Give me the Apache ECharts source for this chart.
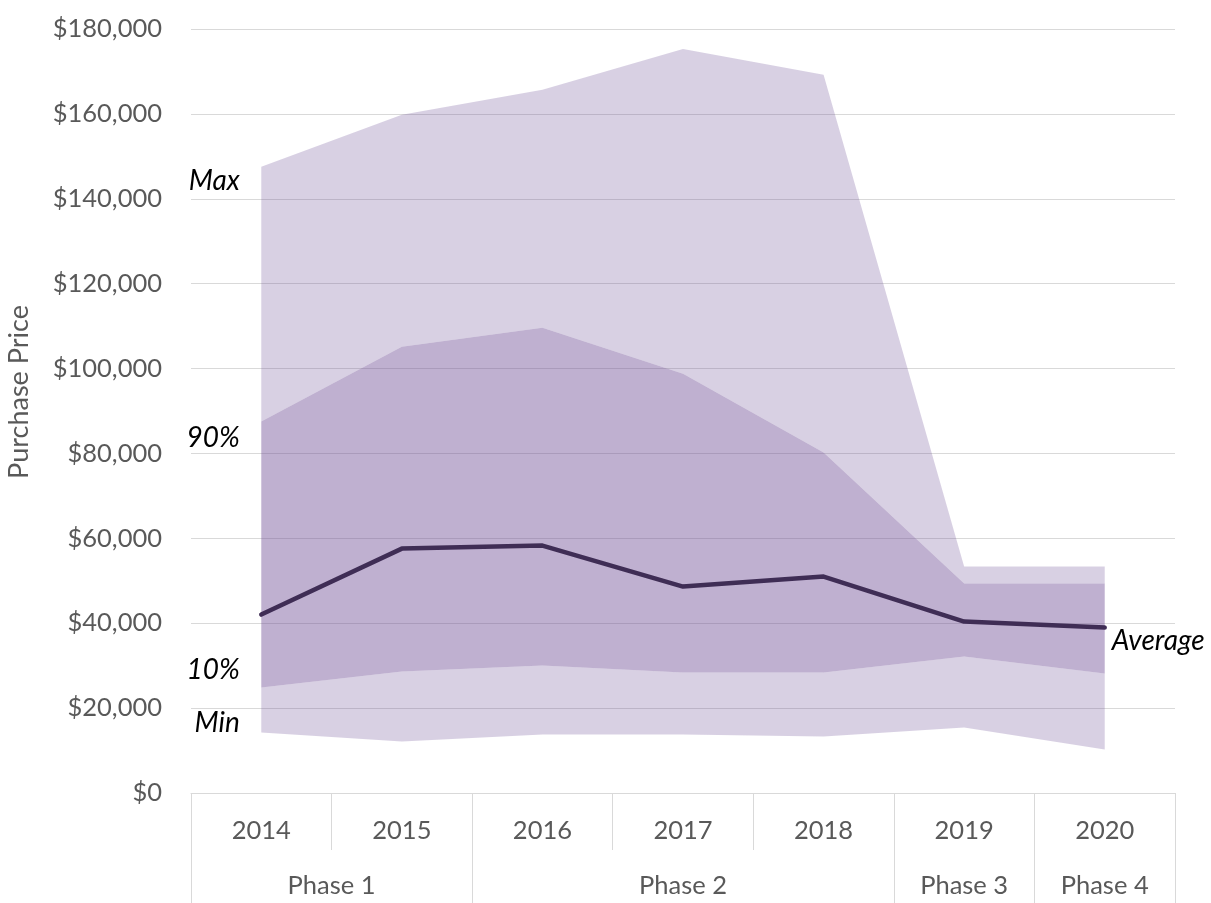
<!DOCTYPE html>
<html>
<head>
<meta charset="utf-8">
<script src="https://cdn.jsdelivr.net/npm/echarts@6/dist/echarts.min.js"></script>
<style>
  html, body { margin: 0; padding: 0; background: #fff; }
  #chart { width: 1211px; height: 903px; }
</style>
</head>
<body>
<div id="chart"></div>
<script>
const years = ['2014', '2015', '2016', '2017', '2018', '2019', '2020'];
const phases = ['Phase 1', 'Phase 2', 'Phase 3', 'Phase 4'];
const phaseBounds = [0, 2, 5, 6, 7];        // phase boundaries, in category slots
const phaseCenters = [1, 3.5, 5.5, 6.5];    // phase label positions, in category slots
const yTicks = { min: 0, max: 180000, interval: 20000 };

const minVals = [14250, 12130, 13780, 13780, 13310, 15430, 10240];
const p10Vals = [24850, 28620, 30030, 28380, 28380, 32150, 28150];
const p90Vals = [87500, 105150, 109600, 98800, 80200, 49350, 49350];
const maxVals = [147550, 159800, 165700, 175300, 169200, 53350, 53350];
const avgVals = [42040, 57580, 58290, 48640, 50990, 40400, 38980];

const FONT = 'Lato, "Open Sans", sans-serif';
const lightBand = 'rgba(112,80,150,0.27)';
const darkBand = 'rgba(112,80,150,0.45)';
const gridGray = '#d9d9d9';
const textGray = '#595959';
const TICK_FS = 25.5;
const NOTE_FS = 28;

function diff(a, b) { return a.map((v, i) => v - b[i]); }

function firstLabel(text, offsetY) {
  return {
    show: true, position: 'left', distance: 21, offset: [0, offsetY],
    formatter: text, color: '#000', fontStyle: 'italic', fontSize: NOTE_FS, fontFamily: FONT
  };
}
function labeled(values, text, offsetY) {
  return values.map((v, i) => i === 0 ? { value: v, label: firstLabel(text, offsetY) } : v);
}

const bandCommon = {
  type: 'line', stack: 'band', symbol: 'circle', symbolSize: 1, showSymbol: true,
  showAllSymbol: true, clip: false,
  itemStyle: { color: 'rgba(0,0,0,0)', borderWidth: 0 },
  emphasis: { disabled: true },
  lineStyle: { width: 0, color: 'rgba(0,0,0,0)' }, silent: true, z: 2
};

const chart = echarts.init(document.getElementById('chart'), null, { renderer: 'canvas' });
chart.setOption({
  animation: false,
  backgroundColor: '#fff',
  grid: { left: 191, right: 36, top: 29, bottom: 110, containLabel: false, outerBoundsMode: 'none' },
  xAxis: [
    {
      type: 'category', data: years, boundaryGap: true, position: 'bottom',
      axisLine: { show: true, lineStyle: { color: gridGray, width: 1 } },
      axisTick: { show: true, interval: 0, length: 57, lineStyle: { color: gridGray, width: 1 } },
      axisLabel: { interval: 0, margin: 25, color: textGray, fontSize: TICK_FS, fontFamily: FONT },
      splitLine: { show: false }
    },
    {
      type: 'value', min: 0, max: years.length, position: 'bottom', offset: 0,
      axisLine: { show: false },
      axisTick: { show: true, customValues: phaseBounds, length: 112, lineStyle: { color: gridGray, width: 1 } },
      axisLabel: {
        show: true, customValues: phaseCenters, margin: 80, color: textGray, fontSize: TICK_FS, fontFamily: FONT,
        formatter: function (v) { const i = phaseCenters.indexOf(v); return i >= 0 ? phases[i] : ''; }
      },
      splitLine: { show: false }
    }
  ],
  yAxis: {
    type: 'value', min: yTicks.min, max: yTicks.max, interval: yTicks.interval,
    name: 'Purchase Price', nameLocation: 'middle', nameGap: 158,
    nameTextStyle: { color: textGray, fontSize: 27, fontFamily: FONT, padding: [0, 0, 0, 38] },
    axisLine: { show: false }, axisTick: { show: false },
    axisLabel: {
      margin: 29, color: textGray, fontSize: TICK_FS, fontFamily: FONT,
      formatter: v => '$' + v.toLocaleString('en-US')
    },
    splitLine: { show: true, lineStyle: { color: gridGray, width: 1 } }
  },
  series: [
    Object.assign({}, bandCommon, {
      name: 'Min', data: labeled(minVals, 'Min', -10),
      areaStyle: { color: 'rgba(0,0,0,0)' }
    }),
    Object.assign({}, bandCommon, {
      name: '10%', data: labeled(diff(p10Vals, minVals), '10%', -18),
      areaStyle: { color: lightBand, opacity: 1 }
    }),
    Object.assign({}, bandCommon, {
      name: '90%', data: labeled(diff(p90Vals, p10Vals), '90%', 16),
      areaStyle: { color: darkBand, opacity: 1 }
    }),
    Object.assign({}, bandCommon, {
      name: 'Max', data: labeled(diff(maxVals, p90Vals), 'Max', 14),
      areaStyle: { color: lightBand, opacity: 1 }
    }),
    {
      type: 'line', name: 'Average', data: avgVals, symbol: 'none', showSymbol: false, z: 5,
      lineStyle: { color: '#3f2d55', width: 4.5, cap: 'round', join: 'round' },
      endLabel: {
        show: true, formatter: 'Average', distance: 7, offset: [0, 13],
        color: '#000', fontStyle: 'italic', fontSize: NOTE_FS, fontFamily: FONT
      }
    }
  ]
});
</script>
</body>
</html>
